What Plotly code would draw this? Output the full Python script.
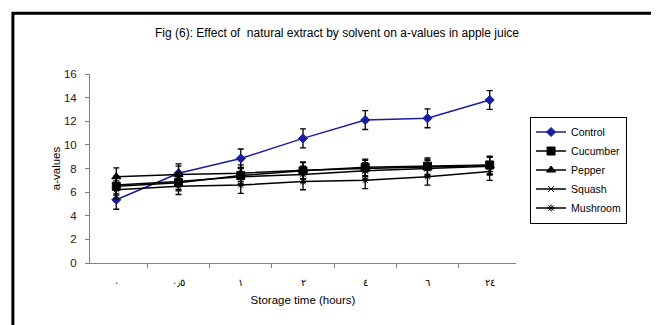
import plotly.graph_objects as go

categories = ["٠", "٠٫٥", "١", "٢", "٤", "٦", "٢٤"]
control = [5.35, 7.6, 8.85, 10.55, 12.1, 12.25, 13.8]
cucumber = [6.5, 6.8, 7.4, 7.8, 8.1, 8.2, 8.3]
pepper = [7.3, 7.5, 7.6, 7.85, 8.0, 8.1, 8.25]
squash = [6.6, 6.9, 7.3, 7.5, 7.8, 8.0, 8.2]
mushroom = [6.2, 6.5, 6.6, 6.9, 7.0, 7.3, 7.75]
err_control = [0.8, 0.8, 0.8, 0.8, 0.8, 0.8, 0.8]
err_others = [0.75, 0.7, 0.7, 0.7, 0.7, 0.7, 0.75]

series = [
    ("Control", control, err_control, "#1c1ca0", "diamond", 7),
    ("Cucumber", cucumber, err_others, "black", "square", 8),
    ("Pepper", pepper, err_others, "black", "triangle-up", 8),
    ("Squash", squash, err_others, "black", "x-thin", 6),
    ("Mushroom", mushroom, err_others, "black", "asterisk", 6),
]

fig = go.Figure()
for name, vals, err, color, sym, size in series:
    fig.add_trace(go.Scatter(
        x=categories, y=vals, name=name, mode="lines+markers",
        line=dict(color=color, width=1.5),
        marker=dict(symbol=sym, size=size, color=color,
                    line=dict(color=color, width=1)),
        error_y=dict(type="data", array=err, visible=True, color="black",
                     thickness=1.3, width=3),
    ))

# page has an 8px body margin, so the figure is drawn 8px right/down
fig.update_layout(
    width=651, height=317,
    margin=dict(l=82, r=143, t=66, b=62),
    paper_bgcolor="white", plot_bgcolor="white",
    font=dict(family="Liberation Sans, Arial", size=11, color="black"),
    showlegend=True,
    legend=dict(x=1.033, y=0.775, xanchor="left", yanchor="top",
                bordercolor="black", borderwidth=1, bgcolor="white",
                font=dict(size=10.5), tracegroupgap=0, itemwidth=30),
    annotations=[
        dict(text="Fig (6): Effect of  natural extract by solvent on a-values in apple juice",
             xref="paper", yref="paper", x=0.58, y=1.217, xanchor="center",
             yanchor="middle", showarrow=False,
             font=dict(size=12)),
    ],
    shapes=[
        dict(type="rect", xref="paper", yref="paper",
             x0=-0.181, x1=1.33, y0=-0.4, y1=1.322,
             line=dict(color="black", width=3)),
    ],
)
fig.update_xaxes(type="category", showline=True, linecolor="#808080", linewidth=1,
                 ticks="outside", tickson="boundaries", ticklen=4, tickcolor="#808080",
                 showgrid=False, tickfont=dict(size=10), ticklabelstandoff=10,
                 title=dict(text="Storage time (hours)", font=dict(size=11.5), standoff=8))
fig.update_yaxes(range=[0, 16], dtick=2, showline=True, linecolor="#808080", linewidth=1,
                 ticks="outside", ticklen=4, tickcolor="#808080", showgrid=False,
                 zeroline=False, ticklabelstandoff=6, tickfont=dict(size=11.5, color="#202020"),
                 title=dict(text="a-values", font=dict(size=11.5), standoff=0))

fig.write_html("out.html")
